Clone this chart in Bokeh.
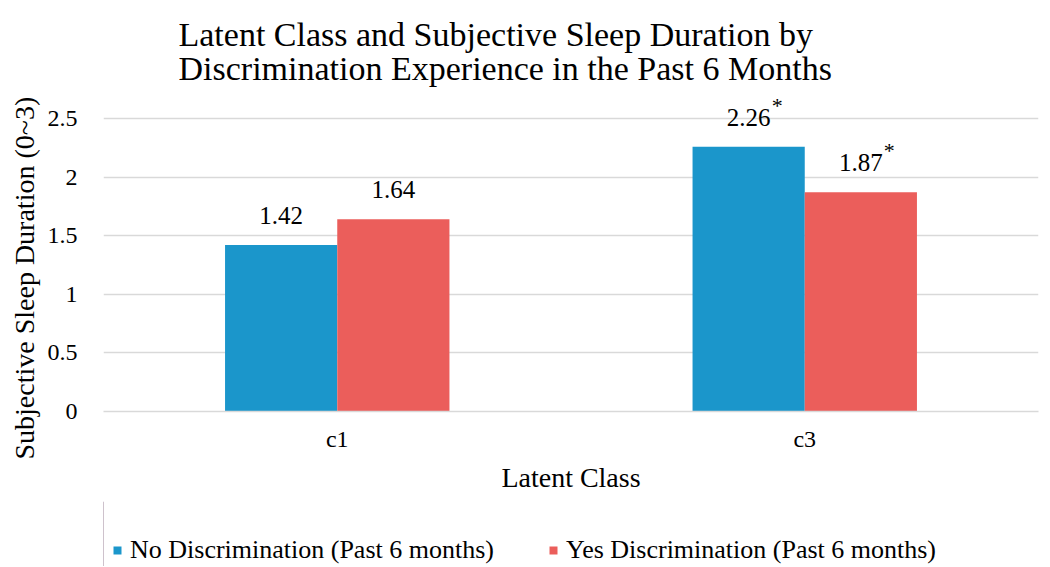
from bokeh.plotting import figure
from bokeh.layouts import column
from bokeh.models import ColumnDataSource, Range1d, FactorRange, Legend, LegendItem, Title
from bokeh.transform import dodge
from bokeh.core.properties import value
from bokeh.embed import file_html
from bokeh.resources import INLINE

classes = ["c1", "c3"]
no_disc = [1.42, 2.26]
yes_disc = [1.64, 1.87]
no_labels = ["1.42", "2.26"]
yes_labels = ["1.64", "1.87"]
no_star = ["", "*"]
yes_star = ["", "*"]
series_names = ["No Discrimination (Past 6 months)", "Yes Discrimination (Past 6 months)"]
y_ticks = [0, 0.5, 1, 1.5, 2, 2.5]
title_lines = ["Latent Class and Subjective Sleep Duration by",
               "Discrimination Experience in the Past 6 Months"]
x_title = "Latent Class"
y_title = "Subjective Sleep Duration (0~3)"

BLUE = "#1b96cb"
RED = "#eb5e5b"
FONT = "Liberation Serif"

src_no = ColumnDataSource(dict(cls=classes, val=no_disc, lab=no_labels, star=no_star))
src_yes = ColumnDataSource(dict(cls=classes, val=yes_disc, lab=yes_labels, star=yes_star))

# frame reaches 23 px above the 2.5 gridline so the labels over tall bars are not clipped
chart = figure(width=1040, height=501, output_backend="svg", toolbar_location=None,
               x_range=FactorRange(*classes), y_range=Range1d(0, 2.5 + 23 / 117.2),
               min_border_left=103, min_border_right=2, min_border_top=95, min_border_bottom=90)
chart.outline_line_color = None
chart.background_fill_color = "white"

chart.vbar(x=dodge("cls", -0.12, range=chart.x_range), top="val", width=0.24, source=src_no,
           fill_color=BLUE, line_color=None)
chart.vbar(x=dodge("cls", 0.12, range=chart.x_range), top="val", width=0.24, source=src_yes,
           fill_color=RED, line_color=None)

for src, off in [(src_no, -0.12), (src_yes, 0.12)]:
    chart.text(x=dodge("cls", off, range=chart.x_range), y="val", text="lab", source=src,
               text_font=value(FONT), text_font_size="25px", text_align="center",
               text_baseline="bottom", y_offset=-21, text_color="black")
    chart.text(x=dodge("cls", off, range=chart.x_range), y="val", text="star", source=src,
               text_font=value(FONT), text_font_size="22px", text_align="left",
               text_baseline="bottom", x_offset=23, y_offset=-29, text_color="black")

chart.xgrid.grid_line_color = None
chart.ygrid.grid_line_color = "#d9d9d9"
chart.ygrid.grid_line_width = 1.3
chart.yaxis.ticker = y_ticks

for ax in (chart.xaxis[0], chart.yaxis[0]):
    ax.major_tick_line_color = None
    ax.minor_tick_line_color = None
    ax.major_label_text_font = FONT
    ax.major_label_text_font_size = "24px"
    ax.major_label_text_color = "black"
    ax.axis_label_text_font = FONT
    ax.axis_label_text_font_size = "28px"
    ax.axis_label_text_font_style = "normal"
    ax.axis_label_text_color = "black"

chart.xaxis.axis_line_color = "#d9d9d9"
chart.xaxis.axis_line_width = 1.3
chart.yaxis.axis_line_color = None
chart.xaxis.axis_label = x_title
chart.xaxis.major_label_standoff = 8
chart.xaxis.axis_label_standoff = 7
chart.yaxis.major_label_standoff = 20

# y-axis title as a side title so it can sit a little lower than the frame centre
chart.add_layout(Title(text=y_title, align="left", offset=-48, text_font=FONT,
                       text_font_size="28px", text_font_style="normal", text_color="black",
                       standoff=10), "left")

chart.title.text = "\n".join(title_lines)
chart.title.align = "left"
chart.title.offset = 75
chart.title.text_font = FONT
chart.title.text_font_size = "34px"
chart.title.text_font_style = "normal"
chart.title.text_color = "black"
chart.title.text_line_height = 0.93
chart.title.standoff = 17

# legend strip below the chart; its swatch renderers sit outside the strip's visible range
leg = figure(width=1040, height=65, output_backend="svg", toolbar_location=None,
             x_range=Range1d(0, 1), y_range=Range1d(0, 1),
             x_axis_type=None, y_axis_type=None,
             min_border_left=0, min_border_right=0, min_border_top=0, min_border_bottom=0)
leg.outline_line_color = None
leg.grid.grid_line_color = None
lr1 = leg.vbar(x=[-5], top=[no_disc[0]], width=0.24, fill_color=BLUE, line_color=None)
lr2 = leg.vbar(x=[-5], top=[yes_disc[0]], width=0.24, fill_color=RED, line_color=None)

legend = Legend(items=[LegendItem(label=series_names[0], renderers=[lr1]),
                       LegendItem(label=series_names[1], renderers=[lr2])],
                orientation="horizontal", location=(9, 1),
                label_text_font=FONT, label_text_font_size="26px", label_text_color="black",
                glyph_width=10, glyph_height=10, label_standoff=8, spacing=54,
                padding=0, margin=0, border_line_color=None, background_fill_alpha=0)
leg.add_layout(legend, "center")

p = column(chart, leg, spacing=0)

open("out.html", "w").write(file_html(p, INLINE))
